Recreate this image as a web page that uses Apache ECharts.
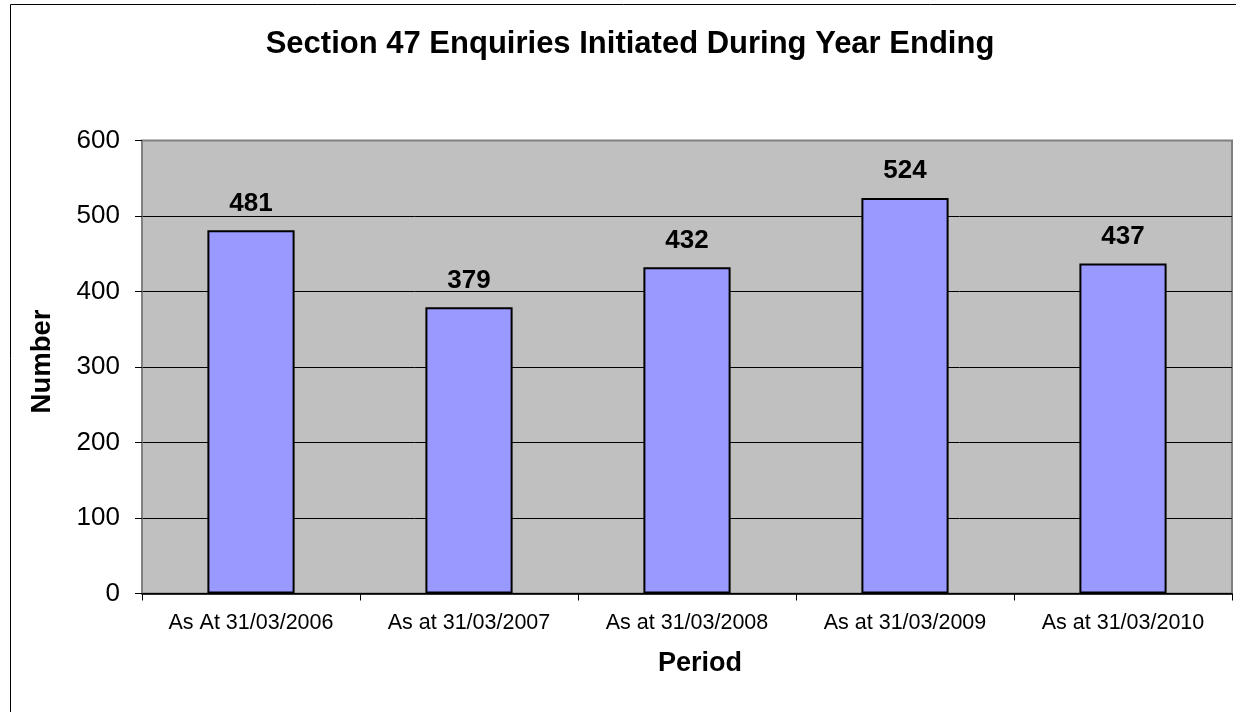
<!DOCTYPE html>
<html>
<head>
<meta charset="utf-8">
<style>
  html, body { margin: 0; padding: 0; background: #ffffff; }
  #chart { width: 1236px; height: 712px; }
</style>
<script src="https://cdn.jsdelivr.net/npm/echarts@6/dist/echarts.min.js"></script>
</head>
<body>
<div id="chart"></div>
<script>
// Section 47 enquiries by year ending
const categories = ['As At 31/03/2006', 'As at 31/03/2007', 'As at 31/03/2008', 'As at 31/03/2009', 'As at 31/03/2010'];
const enquiries = [481, 379, 432, 524, 437];
const yTicks = [0, 100, 200, 300, 400, 500, 600];

const FONT = '"Liberation Sans", Arial, Helvetica, sans-serif';

const chart = echarts.init(document.getElementById('chart'), null, { renderer: 'canvas' });

chart.setOption({
  animation: false,
  backgroundColor: '#ffffff',
  grid: {
    left: 142, top: 140.5, right: 4, bottom: 118.5,
    show: true,
    backgroundColor: '#C0C0C0',
    borderColor: '#808080',
    borderWidth: 2
  },
  graphic: [
    {
      type: 'rect', z: -10,
      shape: { x: 10.5, y: 4.5, width: 1240, height: 730 },
      style: { fill: 'none', stroke: '#000000', lineWidth: 1 }
    },
    {
      type: 'text', x: 630, y: 44.5,
      style: {
        text: 'Section 47 Enquiries Initiated During Year Ending',
        font: 'bold 31px ' + FONT, fill: '#000000',
        textAlign: 'center', textVerticalAlign: 'middle'
      }
    },
    {
      type: 'text', x: 700, y: 663.5,
      style: {
        text: 'Period', font: 'bold 27px ' + FONT, fill: '#000000',
        textAlign: 'center', textVerticalAlign: 'middle'
      }
    },
    {
      type: 'text', x: 42, y: 361.5, rotation: Math.PI / 2,
      style: {
        text: 'Number', font: 'bold 27.5px ' + FONT, fill: '#000000',
        textAlign: 'center', textVerticalAlign: 'middle'
      }
    }
  ],
  xAxis: {
    type: 'category',
    data: categories,
    axisLine: { show: true, lineStyle: { color: '#000000', width: 1.5 } },
    axisTick: { show: true, length: 7, alignWithLabel: false, lineStyle: { color: '#000000', width: 1 } },
    axisLabel: { color: '#000000', fontFamily: FONT, fontSize: 21.5, margin: 19, interval: 0 },
    splitLine: { show: false }
  },
  yAxis: {
    type: 'value',
    min: yTicks[0],
    max: yTicks[yTicks.length - 1],
    interval: yTicks[1] - yTicks[0],
    axisLine: { show: true, lineStyle: { color: '#808080', width: 1.5 } },
    axisTick: { show: true, length: 7, lineStyle: { color: '#000000', width: 1 } },
    axisLabel: { color: '#000000', fontFamily: FONT, fontSize: 26, margin: 22 },
    splitLine: {
      show: true,
      lineStyle: { color: ['#000000', '#000000', '#000000', '#000000', '#000000', '#000000', '#808080'], width: 1 }
    }
  },
  series: [{
    type: 'bar',
    data: enquiries,
    barWidth: '40%',
    itemStyle: { color: '#9999FF', borderColor: '#000000', borderWidth: 2 },
    label: {
      show: true, position: 'top', distance: 14,
      color: '#000000', fontFamily: FONT, fontWeight: 'bold', fontSize: 26
    }
  }]
});
</script>
</body>
</html>
